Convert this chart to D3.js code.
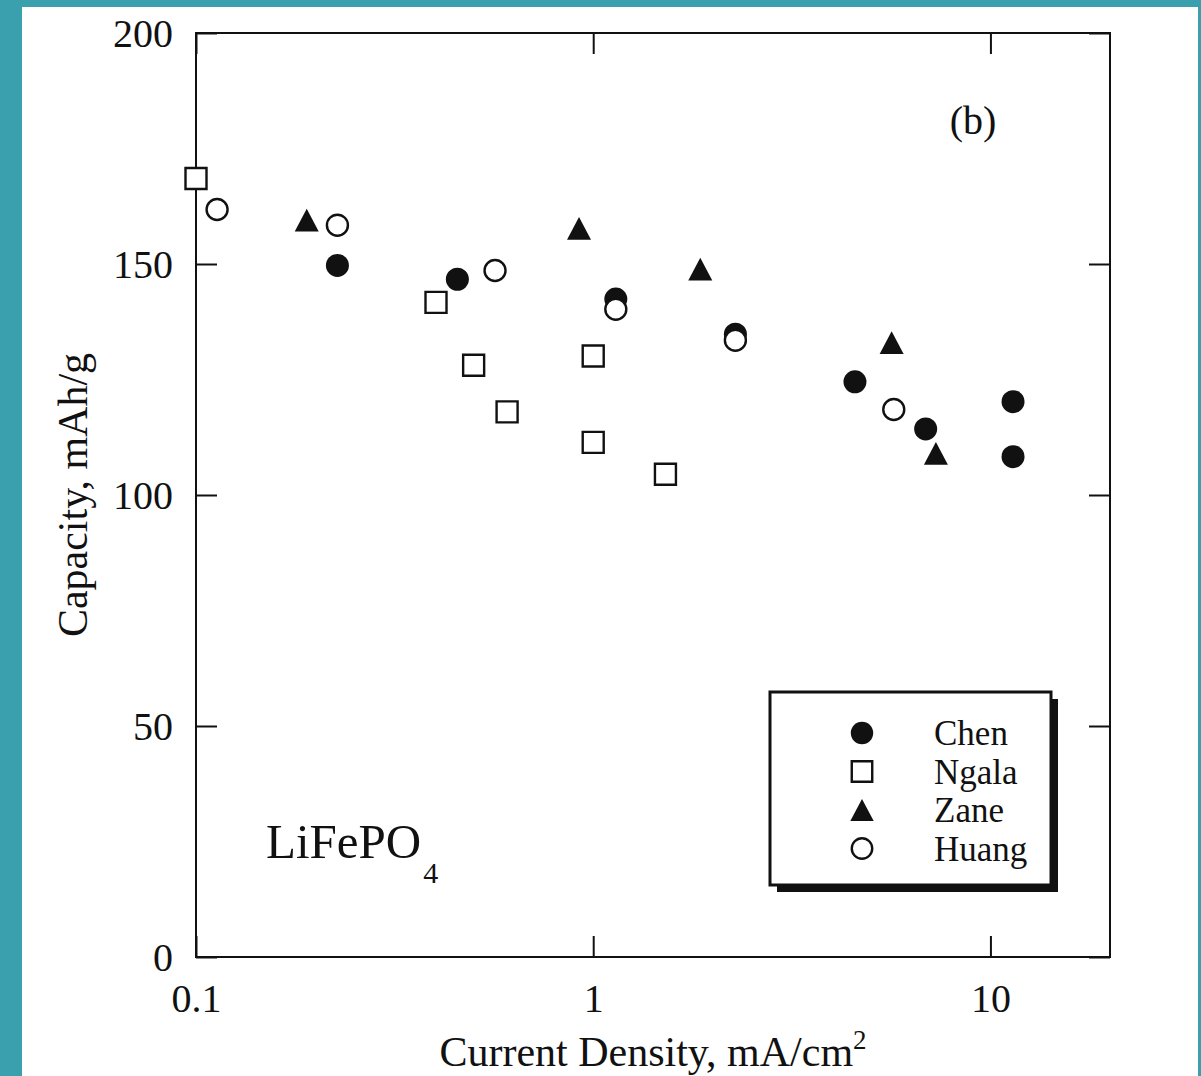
<!DOCTYPE html>
<html>
<head>
<meta charset="utf-8">
<script src="https://cdn.jsdelivr.net/npm/d3@7"></script>
<style>
  html, body { margin: 0; padding: 0; background: #3aa0ae; }
  svg { display: block; }
  text { font-family: "Liberation Serif", "Times New Roman", serif; fill: #111; }
</style>
</head>
<body>
<svg id="chart" width="1201" height="1076"></svg>
<script>
// Discharge capacity of LiFePO4 vs. current density, four literature sources
const chenX   = [0.227, 0.455, 1.14, 2.28, 4.56, 6.87, 11.4, 11.4];
const chenY   = [149.7, 146.7, 142.4, 134.8, 124.5, 114.3, 120.2, 108.3];

const ngalaX  = [0.1, 0.402, 0.50, 0.607, 1.0, 1.0, 1.52];
const ngalaY  = [168.5, 141.7, 128.1, 118.0, 130.1, 111.4, 104.5];

const zaneX   = [0.190, 0.921, 1.86, 5.64, 7.29];
const zaneY   = [159.5, 157.7, 148.9, 133.0, 109.0];

const huangX  = [0.113, 0.227, 0.566, 1.14, 2.28, 5.71];
const huangY  = [161.8, 158.4, 148.6, 140.2, 133.5, 118.5];

const seriesNames = ["Chen", "Ngala", "Zane", "Huang"];
const xTicks = [0.1, 1, 10];
const xTickLabels = ["0.1", "1", "10"];
const yTicks = [0, 50, 100, 150, 200];

const svg = d3.select("#chart");

// white page over the teal backdrop
svg.append("rect").attr("x", 22).attr("y", 7).attr("width", 1176).attr("height", 1069).attr("fill", "#fff");

const x = d3.scaleLog().domain([0.1, 20]).range([196, 1110]);
const y = d3.scaleLinear().domain([0, 200]).range([957, 33]);

const ink = "#111";
const tickLen = 21;

// plot frame
svg.append("rect")
  .attr("x", x.range()[0]).attr("y", y.range()[1])
  .attr("width", x.range()[1] - x.range()[0])
  .attr("height", y.range()[0] - y.range()[1])
  .attr("fill", "none").attr("stroke", ink).attr("stroke-width", 2);

function styleAxis(g) {
  g.select(".domain").remove();
  g.selectAll(".tick line").attr("stroke", ink).attr("stroke-width", 2);
}

// bottom axis with inward ticks
svg.append("g").attr("transform", `translate(0,${y(0)})`)
  .call(d3.axisBottom(x).tickValues(xTicks).tickSize(-tickLen).tickSizeOuter(0)
    .tickFormat((d, i) => xTickLabels[i]))
  .call(styleAxis)
  .call(g => g.selectAll(".tick text")
    .attr("y", 55).attr("dy", null)
    .attr("font-size", 40).attr("fill", ink));

// top axis
svg.append("g").attr("transform", `translate(0,${y(200)})`)
  .call(d3.axisTop(x).tickValues(xTicks).tickSize(-tickLen).tickSizeOuter(0).tickFormat(""))
  .call(styleAxis);

// left axis
svg.append("g").attr("transform", `translate(${x(0.1)},0)`)
  .call(d3.axisLeft(y).tickValues(yTicks).tickSize(-tickLen).tickSizeOuter(0).tickFormat(d3.format("d")))
  .call(styleAxis)
  .call(g => g.selectAll(".tick text")
    .attr("x", -23).attr("dy", "0.33em")
    .attr("font-size", 40).attr("fill", ink));

// right axis
svg.append("g").attr("transform", `translate(${x(20)},0)`)
  .call(d3.axisRight(y).tickValues(yTicks).tickSize(-tickLen).tickSizeOuter(0).tickFormat(""))
  .call(styleAxis);

// axis titles
const xt = svg.append("text")
  .attr("x", (x.range()[0] + x.range()[1]) / 2).attr("y", 1066)
  .attr("text-anchor", "middle").attr("font-size", 42);
xt.append("tspan").text("Current Density, mA/cm");
xt.append("tspan").attr("dy", -17).attr("font-size", 27).text("2");

svg.append("text")
  .attr("transform", `translate(87,${(y.range()[0] + y.range()[1]) / 2}) rotate(-90)`)
  .attr("text-anchor", "middle").attr("font-size", 42)
  .text("Capacity, mAh/g");

// panel annotations
svg.append("text").attr("x", 973).attr("y", 134).attr("text-anchor", "middle")
  .attr("font-size", 40).text("(b)");

const formula = svg.append("text").attr("x", 266).attr("y", 858).attr("font-size", 49);
formula.append("tspan").text("LiFePO");
formula.append("tspan").attr("dy", 25).attr("dx", 2).attr("font-size", 30).text("4");

// marker shapes
const triangleBox = {
  draw(ctx, size) {
    const w = Math.sqrt(size), h = w * 0.95;
    ctx.moveTo(0, -h / 2);
    ctx.lineTo(w / 2, h / 2);
    ctx.lineTo(-w / 2, h / 2);
    ctx.closePath();
  }
};
const styles = {
  Chen:  { type: d3.symbolCircle, size: Math.PI * 11.5 * 11.5, fill: ink,    stroke: "none" },
  Ngala: { type: d3.symbolSquare, size: 21 * 21,               fill: "#fff", stroke: ink },
  Zane:  { type: triangleBox,     size: 24 * 24,               fill: ink,    stroke: "none" },
  Huang: { type: d3.symbolCircle, size: Math.PI * 10.5 * 10.5, fill: "#fff", stroke: ink }
};

const data = {
  Ngala: ngalaX.map((v, i) => [v, ngalaY[i]]),
  Zane:  zaneX.map((v, i) => [v, zaneY[i]]),
  Chen:  chenX.map((v, i) => [v, chenY[i]]),
  Huang: huangX.map((v, i) => [v, huangY[i]])
};

// draw order keeps open circles on top of the filled ones they overlap
["Ngala", "Zane", "Chen", "Huang"].forEach(name => {
  const s = styles[name];
  svg.append("g").selectAll("path").data(data[name]).join("path")
    .attr("transform", d => `translate(${x(d[0])},${y(d[1])})`)
    .attr("d", d3.symbol().type(s.type).size(s.size))
    .attr("fill", s.fill).attr("stroke", s.stroke).attr("stroke-width", 2.4);
});

// legend with drop shadow
const lg = svg.append("g").attr("transform", "translate(770,692)");
const lw = 281, lh = 193, off = 7;
lg.append("rect").attr("x", off).attr("y", off).attr("width", lw).attr("height", lh).attr("fill", ink);
lg.append("rect").attr("width", lw).attr("height", lh).attr("fill", "#fff")
  .attr("stroke", ink).attr("stroke-width", 3);
seriesNames.forEach((name, i) => {
  const s = styles[name];
  const cy = 41 + i * 38.5;
  lg.append("path").attr("transform", `translate(92,${cy})`)
    .attr("d", d3.symbol().type(s.type).size(s.size * 0.95))
    .attr("fill", s.fill).attr("stroke", s.stroke).attr("stroke-width", 2.4);
  lg.append("text").attr("x", 164).attr("y", cy + 12).attr("font-size", 35).text(name);
});
</script>
</body>
</html>
